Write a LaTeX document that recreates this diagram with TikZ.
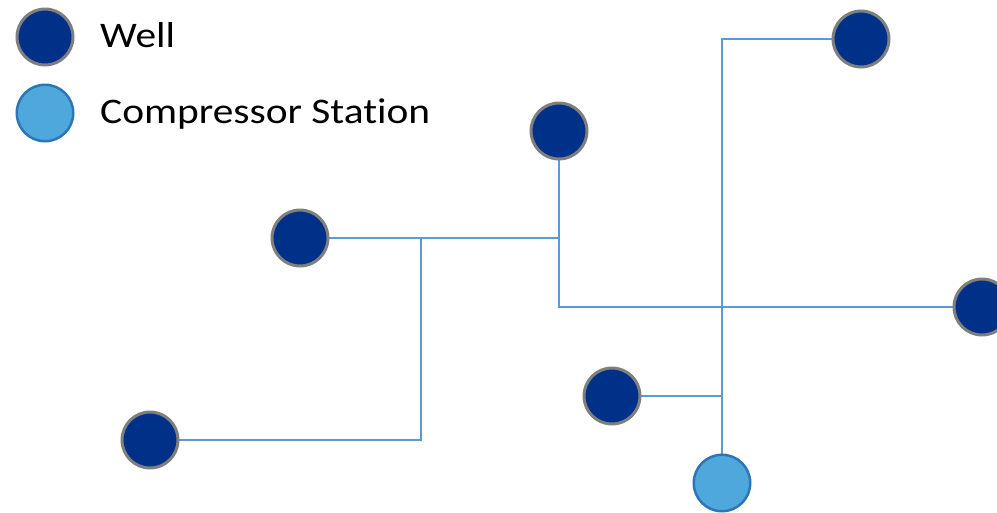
\documentclass[tikz,border=0pt]{standalone}
\usepackage{fontspec}
\setmainfont{Carlito}[Ligatures=NoCommon,FakeStretch=1.15]
\usetikzlibrary{backgrounds}
\definecolor{wellfill}{HTML}{003189}
\definecolor{wellring}{HTML}{7F7F7F}
\definecolor{csfill}{HTML}{4EA8DC}
\definecolor{csring}{HTML}{2E75B6}
\definecolor{pipe}{HTML}{5B9BD5}
\begin{document}
\begin{tikzpicture}[x=1pt,y=1pt,
  well/.style={circle,fill=wellfill,draw=wellring,line width=3pt,minimum size=56pt,inner sep=0pt},
  station/.style={circle,fill=csfill,draw=csring,line width=2.5pt,minimum size=56.5pt,inner sep=0pt},
  legtext/.style={anchor=base west,inner sep=0pt,font=\fontsize{36}{40}\selectfont},
  pipeline/.style={draw=pipe,line width=2pt}]
\useasboundingbox (0,0) rectangle (997,-512);
% legend
\node[well] (lw) at (45,-37) {};
\node[legtext] (lwt) at (100,-47) {Well};
\node[station] (lc) at (45,-113) {};
\node[legtext] (lct) at (100,-123) {Compressor Station};
% wells
\node[well] (w1) at (861,-39) {};
\node[well] (w2) at (559,-131) {};
\node[well] (w3) at (300,-238) {};
\node[well] (w4) at (982,-307) {};
\node[well] (w5) at (612,-396) {};
\node[well] (w6) at (150,-440) {};
\node[station] (cs) at (722,-483) {};
\coordinate (j1) at (421,-238);
\begin{scope}[on background layer]
\draw[pipeline] (w3.center) -- (w3.center -| w2.center);
\draw[pipeline] (w2.center) |- (w4.center);
\draw[pipeline] (j1) |- (w6.center);
\draw[pipeline] (cs.center) |- (w1.center);
\draw[pipeline] (w5.center) -- (w5.center -| cs.center);
\end{scope}
\end{tikzpicture}
\end{document}
